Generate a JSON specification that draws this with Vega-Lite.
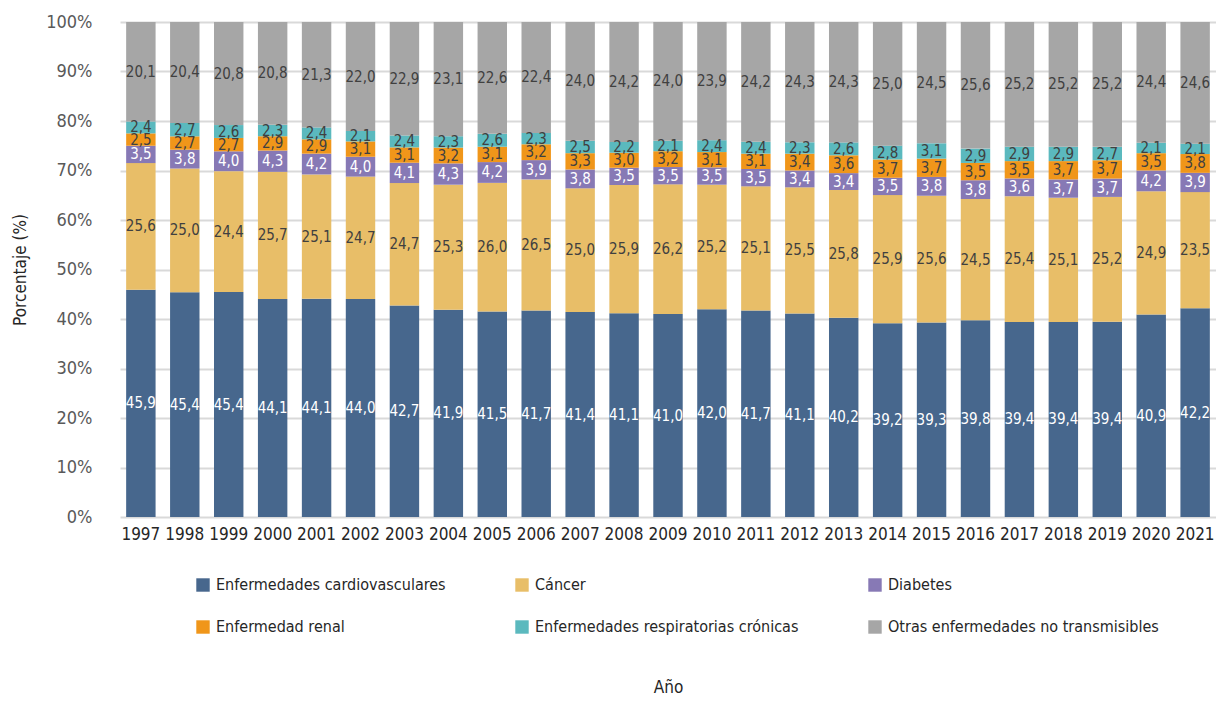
{
  "$schema": "https://vega.github.io/schema/vega-lite/v6.json",
  "width": 1096,
  "height": 495,
  "autosize": {"type": "none"},
  "padding": {"left": 120, "top": 22, "right": 0, "bottom": 185},
  "background": "white",
  "config": {
    "locale": {"number": {"decimal": ",", "thousands": ".", "grouping": [3], "currency": ["", " €"]}},
    "font": "'DejaVu Sans Condensed', 'Roboto Condensed', 'Liberation Sans Narrow', Roboto",
    "view": {"stroke": null},
    "axisY": {
      "format": ".0%", "values": [0,0.1,0.2,0.3,0.4,0.5,0.6,0.7,0.8,0.9,1],
      "labelOverlap": false,
      "domain": false, "ticks": false,
      "gridColor": "#d9d9d9", "gridWidth": 2,
      "labelFontSize": 18, "labelColor": "#595959", "labelPadding": 28,
      "titleFontSize": 17, "titleFontWeight": "normal", "titleColor": "#262626", "titlePadding": 16
    }
  },
  "data": {"values": [
    {"year":"1997","cat":"Enfermedades cardiovasculares","value":45.9},{"year":"1997","cat":"Cáncer","value":25.6},{"year":"1997","cat":"Diabetes","value":3.5},{"year":"1997","cat":"Enfermedad renal","value":2.5},{"year":"1997","cat":"Enfermedades respiratorias crónicas","value":2.4},{"year":"1997","cat":"Otras enfermedades no transmisibles","value":20.1},
    {"year":"1998","cat":"Enfermedades cardiovasculares","value":45.4},{"year":"1998","cat":"Cáncer","value":25.0},{"year":"1998","cat":"Diabetes","value":3.8},{"year":"1998","cat":"Enfermedad renal","value":2.7},{"year":"1998","cat":"Enfermedades respiratorias crónicas","value":2.7},{"year":"1998","cat":"Otras enfermedades no transmisibles","value":20.4},
    {"year":"1999","cat":"Enfermedades cardiovasculares","value":45.4},{"year":"1999","cat":"Cáncer","value":24.4},{"year":"1999","cat":"Diabetes","value":4.0},{"year":"1999","cat":"Enfermedad renal","value":2.7},{"year":"1999","cat":"Enfermedades respiratorias crónicas","value":2.6},{"year":"1999","cat":"Otras enfermedades no transmisibles","value":20.8},
    {"year":"2000","cat":"Enfermedades cardiovasculares","value":44.1},{"year":"2000","cat":"Cáncer","value":25.7},{"year":"2000","cat":"Diabetes","value":4.3},{"year":"2000","cat":"Enfermedad renal","value":2.9},{"year":"2000","cat":"Enfermedades respiratorias crónicas","value":2.3},{"year":"2000","cat":"Otras enfermedades no transmisibles","value":20.8},
    {"year":"2001","cat":"Enfermedades cardiovasculares","value":44.1},{"year":"2001","cat":"Cáncer","value":25.1},{"year":"2001","cat":"Diabetes","value":4.2},{"year":"2001","cat":"Enfermedad renal","value":2.9},{"year":"2001","cat":"Enfermedades respiratorias crónicas","value":2.4},{"year":"2001","cat":"Otras enfermedades no transmisibles","value":21.3},
    {"year":"2002","cat":"Enfermedades cardiovasculares","value":44.0},{"year":"2002","cat":"Cáncer","value":24.7},{"year":"2002","cat":"Diabetes","value":4.0},{"year":"2002","cat":"Enfermedad renal","value":3.1},{"year":"2002","cat":"Enfermedades respiratorias crónicas","value":2.1},{"year":"2002","cat":"Otras enfermedades no transmisibles","value":22.0},
    {"year":"2003","cat":"Enfermedades cardiovasculares","value":42.7},{"year":"2003","cat":"Cáncer","value":24.7},{"year":"2003","cat":"Diabetes","value":4.1},{"year":"2003","cat":"Enfermedad renal","value":3.1},{"year":"2003","cat":"Enfermedades respiratorias crónicas","value":2.4},{"year":"2003","cat":"Otras enfermedades no transmisibles","value":22.9},
    {"year":"2004","cat":"Enfermedades cardiovasculares","value":41.9},{"year":"2004","cat":"Cáncer","value":25.3},{"year":"2004","cat":"Diabetes","value":4.3},{"year":"2004","cat":"Enfermedad renal","value":3.2},{"year":"2004","cat":"Enfermedades respiratorias crónicas","value":2.3},{"year":"2004","cat":"Otras enfermedades no transmisibles","value":23.1},
    {"year":"2005","cat":"Enfermedades cardiovasculares","value":41.5},{"year":"2005","cat":"Cáncer","value":26.0},{"year":"2005","cat":"Diabetes","value":4.2},{"year":"2005","cat":"Enfermedad renal","value":3.1},{"year":"2005","cat":"Enfermedades respiratorias crónicas","value":2.6},{"year":"2005","cat":"Otras enfermedades no transmisibles","value":22.6},
    {"year":"2006","cat":"Enfermedades cardiovasculares","value":41.7},{"year":"2006","cat":"Cáncer","value":26.5},{"year":"2006","cat":"Diabetes","value":3.9},{"year":"2006","cat":"Enfermedad renal","value":3.2},{"year":"2006","cat":"Enfermedades respiratorias crónicas","value":2.3},{"year":"2006","cat":"Otras enfermedades no transmisibles","value":22.4},
    {"year":"2007","cat":"Enfermedades cardiovasculares","value":41.4},{"year":"2007","cat":"Cáncer","value":25.0},{"year":"2007","cat":"Diabetes","value":3.8},{"year":"2007","cat":"Enfermedad renal","value":3.3},{"year":"2007","cat":"Enfermedades respiratorias crónicas","value":2.5},{"year":"2007","cat":"Otras enfermedades no transmisibles","value":24.0},
    {"year":"2008","cat":"Enfermedades cardiovasculares","value":41.1},{"year":"2008","cat":"Cáncer","value":25.9},{"year":"2008","cat":"Diabetes","value":3.5},{"year":"2008","cat":"Enfermedad renal","value":3.0},{"year":"2008","cat":"Enfermedades respiratorias crónicas","value":2.2},{"year":"2008","cat":"Otras enfermedades no transmisibles","value":24.2},
    {"year":"2009","cat":"Enfermedades cardiovasculares","value":41.0},{"year":"2009","cat":"Cáncer","value":26.2},{"year":"2009","cat":"Diabetes","value":3.5},{"year":"2009","cat":"Enfermedad renal","value":3.2},{"year":"2009","cat":"Enfermedades respiratorias crónicas","value":2.1},{"year":"2009","cat":"Otras enfermedades no transmisibles","value":24.0},
    {"year":"2010","cat":"Enfermedades cardiovasculares","value":42.0},{"year":"2010","cat":"Cáncer","value":25.2},{"year":"2010","cat":"Diabetes","value":3.5},{"year":"2010","cat":"Enfermedad renal","value":3.1},{"year":"2010","cat":"Enfermedades respiratorias crónicas","value":2.4},{"year":"2010","cat":"Otras enfermedades no transmisibles","value":23.9},
    {"year":"2011","cat":"Enfermedades cardiovasculares","value":41.7},{"year":"2011","cat":"Cáncer","value":25.1},{"year":"2011","cat":"Diabetes","value":3.5},{"year":"2011","cat":"Enfermedad renal","value":3.1},{"year":"2011","cat":"Enfermedades respiratorias crónicas","value":2.4},{"year":"2011","cat":"Otras enfermedades no transmisibles","value":24.2},
    {"year":"2012","cat":"Enfermedades cardiovasculares","value":41.1},{"year":"2012","cat":"Cáncer","value":25.5},{"year":"2012","cat":"Diabetes","value":3.4},{"year":"2012","cat":"Enfermedad renal","value":3.4},{"year":"2012","cat":"Enfermedades respiratorias crónicas","value":2.3},{"year":"2012","cat":"Otras enfermedades no transmisibles","value":24.3},
    {"year":"2013","cat":"Enfermedades cardiovasculares","value":40.2},{"year":"2013","cat":"Cáncer","value":25.8},{"year":"2013","cat":"Diabetes","value":3.4},{"year":"2013","cat":"Enfermedad renal","value":3.6},{"year":"2013","cat":"Enfermedades respiratorias crónicas","value":2.6},{"year":"2013","cat":"Otras enfermedades no transmisibles","value":24.3},
    {"year":"2014","cat":"Enfermedades cardiovasculares","value":39.2},{"year":"2014","cat":"Cáncer","value":25.9},{"year":"2014","cat":"Diabetes","value":3.5},{"year":"2014","cat":"Enfermedad renal","value":3.7},{"year":"2014","cat":"Enfermedades respiratorias crónicas","value":2.8},{"year":"2014","cat":"Otras enfermedades no transmisibles","value":25.0},
    {"year":"2015","cat":"Enfermedades cardiovasculares","value":39.3},{"year":"2015","cat":"Cáncer","value":25.6},{"year":"2015","cat":"Diabetes","value":3.8},{"year":"2015","cat":"Enfermedad renal","value":3.7},{"year":"2015","cat":"Enfermedades respiratorias crónicas","value":3.1},{"year":"2015","cat":"Otras enfermedades no transmisibles","value":24.5},
    {"year":"2016","cat":"Enfermedades cardiovasculares","value":39.8},{"year":"2016","cat":"Cáncer","value":24.5},{"year":"2016","cat":"Diabetes","value":3.8},{"year":"2016","cat":"Enfermedad renal","value":3.5},{"year":"2016","cat":"Enfermedades respiratorias crónicas","value":2.9},{"year":"2016","cat":"Otras enfermedades no transmisibles","value":25.6},
    {"year":"2017","cat":"Enfermedades cardiovasculares","value":39.4},{"year":"2017","cat":"Cáncer","value":25.4},{"year":"2017","cat":"Diabetes","value":3.6},{"year":"2017","cat":"Enfermedad renal","value":3.5},{"year":"2017","cat":"Enfermedades respiratorias crónicas","value":2.9},{"year":"2017","cat":"Otras enfermedades no transmisibles","value":25.2},
    {"year":"2018","cat":"Enfermedades cardiovasculares","value":39.4},{"year":"2018","cat":"Cáncer","value":25.1},{"year":"2018","cat":"Diabetes","value":3.7},{"year":"2018","cat":"Enfermedad renal","value":3.7},{"year":"2018","cat":"Enfermedades respiratorias crónicas","value":2.9},{"year":"2018","cat":"Otras enfermedades no transmisibles","value":25.2},
    {"year":"2019","cat":"Enfermedades cardiovasculares","value":39.4},{"year":"2019","cat":"Cáncer","value":25.2},{"year":"2019","cat":"Diabetes","value":3.7},{"year":"2019","cat":"Enfermedad renal","value":3.7},{"year":"2019","cat":"Enfermedades respiratorias crónicas","value":2.7},{"year":"2019","cat":"Otras enfermedades no transmisibles","value":25.2},
    {"year":"2020","cat":"Enfermedades cardiovasculares","value":40.9},{"year":"2020","cat":"Cáncer","value":24.9},{"year":"2020","cat":"Diabetes","value":4.2},{"year":"2020","cat":"Enfermedad renal","value":3.5},{"year":"2020","cat":"Enfermedades respiratorias crónicas","value":2.1},{"year":"2020","cat":"Otras enfermedades no transmisibles","value":24.4},
    {"year":"2021","cat":"Enfermedades cardiovasculares","value":42.2},{"year":"2021","cat":"Cáncer","value":23.5},{"year":"2021","cat":"Diabetes","value":3.9},{"year":"2021","cat":"Enfermedad renal","value":3.8},{"year":"2021","cat":"Enfermedades respiratorias crónicas","value":2.1},{"year":"2021","cat":"Otras enfermedades no transmisibles","value":24.6}
  ]},
  "transform": [
    {"calculate": "indexof(['Enfermedades cardiovasculares','Cáncer','Diabetes','Enfermedad renal','Enfermedades respiratorias crónicas','Otras enfermedades no transmisibles'], datum.cat)", "as": "ord"},
    {"stack": "value", "groupby": ["year"], "sort": [{"field": "ord", "order": "ascending"}], "as": ["y0", "y1"], "offset": "normalize"},
    {"calculate": "(datum.y0 + datum.y1) / 2", "as": "ymid"}
  ],
  "encoding": {
    "x": {
      "field": "year", "type": "ordinal", "title": "Año",
      "scale": {"paddingInner": 0.33, "paddingOuter": 0.14},
      "axis": {
        "labelAngle": 0, "domain": false, "ticks": false,
        "labelFontSize": 17, "labelColor": "#262626", "labelPadding": 9,
        "titleFontSize": 17, "titleFontWeight": "normal", "titleColor": "#262626", "titlePadding": 137
      }
    }
  },
  "layer": [
    {
      "mark": {"type": "bar"},
      "encoding": {
        "y": {
          "field": "y0", "type": "quantitative", "title": "Porcentaje (%)",
          "scale": {"domain": [0, 1]}
        },
        "y2": {"field": "y1"},
        "color": {
          "field": "cat", "type": "nominal",
          "scale": {
            "domain": ["Enfermedades cardiovasculares","Cáncer","Diabetes","Enfermedad renal","Enfermedades respiratorias crónicas","Otras enfermedades no transmisibles"],
            "range": ["#47678D","#E8BE68","#8779B5","#F0961A","#5BB9BE","#A6A6A6"]
          },
          "legend": {
            "title": null, "orient": "none", "legendX": 75, "legendY": 555,
            "direction": "horizontal",
            "columns": 3, "columnPadding": 68, "rowPadding": 26, "padding": 0,
            "symbolType": "square", "symbolSize": 180, "symbolStrokeWidth": 0,
            "labelFontSize": 16, "labelColor": "#262626", "labelOffset": 5, "labelLimit": 400
          }
        }
      }
    },
    {
      "mark": {"type": "text", "fontSize": 15, "baseline": "middle", "align": "center"},
      "encoding": {
        "y": {"field": "ymid", "type": "quantitative", "title": "Porcentaje (%)"},
        "text": {"field": "value", "type": "quantitative", "format": ".1f"},
        "color": {
          "condition": {"test": "datum.cat === 'Enfermedades cardiovasculares' || datum.cat === 'Diabetes'", "value": "#ffffff"},
          "value": "#404040"
        }
      }
    }
  ]
}
